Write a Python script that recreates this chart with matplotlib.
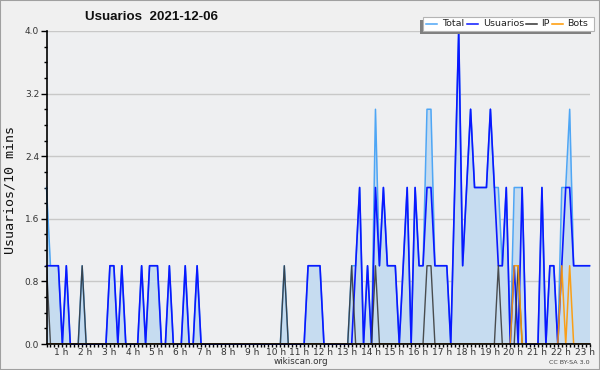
import numpy as np
import matplotlib
matplotlib.use("Agg")
import matplotlib.pyplot as plt
from matplotlib.patches import Rectangle
from matplotlib.lines import Line2D
from matplotlib.ticker import MultipleLocator, FixedLocator

# ---- data: 10-minute bins, one row per hour (00:00 .. 22:50) ----
usuarios = [
    1, 1, 1, 1, 0, 1,
    0, 0, 0, 0, 0, 0,
    0, 0, 0, 0, 1, 1,
    0, 1, 0, 0, 0, 0,
    1, 0, 1, 1, 1, 0,
    0, 1, 0, 0, 0, 1,
    0, 0, 1, 0, 0, 0,
    0, 0, 0, 0, 0, 0,
    0, 0, 0, 0, 0, 0,
    0, 0, 0, 0, 0, 0,
    0, 0, 0, 0, 0, 0,
    1, 1, 1, 1, 0, 0,
    0, 0, 0, 0, 0, 0,
    1, 2, 0, 1, 0, 2,
    1, 2, 1, 1, 1, 0,
    1, 2, 0, 2, 1, 1,
    2, 2, 1, 1, 1, 1,
    0, 2, 4, 1, 2, 3,
    2, 2, 2, 2, 3, 2,
    1, 1, 2, 0, 1, 0,
    2, 0, 0, 0, 0, 2,
    0, 1, 1, 0, 1, 2,
    2, 1, 1, 1, 1, 1,
]
ip = [
    1, 0, 0, 0, 0, 0,
    0, 0, 0, 1, 0, 0,
    0, 0, 0, 0, 0, 0,
    0, 0, 0, 0, 0, 0,
    0, 0, 0, 0, 0, 0,
    0, 0, 0, 0, 0, 0,
    0, 0, 0, 0, 0, 0,
    0, 0, 0, 0, 0, 0,
    0, 0, 0, 0, 0, 0,
    0, 0, 0, 0, 0, 0,
    1, 0, 0, 0, 0, 0,
    0, 0, 0, 0, 0, 0,
    0, 0, 0, 0, 0, 1,
    0, 0, 0, 0, 0, 1,
    0, 0, 0, 0, 0, 0,
    0, 0, 0, 0, 0, 0,
    1, 1, 0, 0, 0, 0,
    0, 0, 0, 0, 0, 0,
    0, 0, 0, 0, 0, 0,
    1, 0, 0, 0, 0, 1,
    0, 0, 0, 0, 0, 0,
    0, 0, 0, 0, 0, 0,
    0, 0, 0, 0, 0, 0,
]
bots = [
    0, 0, 0, 0, 0, 0,
    0, 0, 0, 0, 0, 0,
    0, 0, 0, 0, 0, 0,
    0, 0, 0, 0, 0, 0,
    0, 0, 0, 0, 0, 0,
    0, 0, 0, 0, 0, 0,
    0, 0, 0, 0, 0, 0,
    0, 0, 0, 0, 0, 0,
    0, 0, 0, 0, 0, 0,
    0, 0, 0, 0, 0, 0,
    0, 0, 0, 0, 0, 0,
    0, 0, 0, 0, 0, 0,
    0, 0, 0, 0, 0, 0,
    0, 0, 0, 0, 0, 0,
    0, 0, 0, 0, 0, 0,
    0, 0, 0, 0, 0, 0,
    0, 0, 0, 0, 0, 0,
    0, 0, 0, 0, 0, 0,
    0, 0, 0, 0, 0, 0,
    0, 0, 0, 0, 1, 1,
    0, 0, 0, 0, 0, 0,
    0, 0, 0, 0, 1, 0,
    1, 0, 0, 0, 0, 0,
]
total = [
    2, 1, 1, 1, 0, 1,
    0, 0, 0, 1, 0, 0,
    0, 0, 0, 0, 1, 1,
    0, 1, 0, 0, 0, 0,
    1, 0, 1, 1, 1, 0,
    0, 1, 0, 0, 0, 1,
    0, 0, 1, 0, 0, 0,
    0, 0, 0, 0, 0, 0,
    0, 0, 0, 0, 0, 0,
    0, 0, 0, 0, 0, 0,
    1, 0, 0, 0, 0, 0,
    1, 1, 1, 1, 0, 0,
    0, 0, 0, 0, 0, 1,
    1, 2, 0, 1, 0, 3,
    1, 2, 1, 1, 1, 0,
    1, 2, 0, 2, 1, 1,
    3, 3, 1, 1, 1, 1,
    0, 2, 4, 1, 2, 3,
    2, 2, 2, 2, 3, 2,
    2, 1, 2, 0, 2, 2,
    2, 0, 0, 0, 0, 2,
    0, 1, 1, 0, 2, 2,
    3, 1, 1, 1, 1, 1,
]
hours = list(range(1, 24))
hour_labels = [f"{h} h" for h in hours]
y_major = [0.0, 0.8, 1.6, 2.4, 3.2, 4.0]
series_names = ["Total", "Usuarios", "IP", "Bots"]
series_colors = ["#4ea6f5", "#0a18ff", "#333333", "#ff9900"]

W, H = 600, 370
def fx(px):
    return px / W
def fy(py):
    return 1 - py / H

fig = plt.figure(figsize=(6.0, 3.7), dpi=100)
fig.patch.set_facecolor("#f0f0f0")
fig.add_artist(Rectangle((0, 0), 1, 1, transform=fig.transFigure,
                         fill=False, edgecolor="#a0a0a0", lw=1.5))

ax = fig.add_axes([fx(46.5), fy(344), fx(589.5) - fx(46.5), fy(31) - fy(344)])
ax.set_facecolor("#eeeff1")

x = np.arange(len(total))
ax.fill_between(x, total, 0, color="#c6dcf0", lw=0, zorder=1)
ax.plot(x, total, color=series_colors[0], lw=1.1, zorder=3, clip_on=False)
ax.plot(x, usuarios, color=series_colors[1], lw=1.2, zorder=4, clip_on=False)
ax.plot(x, ip, color=series_colors[2], lw=1.0, alpha=0.85, zorder=5)
ax.plot(x, bots, color=series_colors[3], lw=1.1, alpha=0.9, zorder=5)

ax.set_xlim(0, len(total) - 1)
ax.set_ylim(0, 4.0)

for s in ("top", "right"):
    ax.spines[s].set_visible(False)
for s in ("left", "bottom"):
    ax.spines[s].set_color("black")
    ax.spines[s].set_linewidth(1.2)
    ax.spines[s].set_zorder(6)

# y axis
ax.set_yticks(y_major)
ax.set_yticklabels([f"{v:.1f}" for v in y_major])
ax.yaxis.set_minor_locator(MultipleLocator(0.2))
ax.tick_params(axis="y", which="major", length=4.3, width=1, pad=1,
               labelsize=6.5, colors="black", labelcolor="#333333")
ax.tick_params(axis="y", which="minor", length=2.2, width=1, colors="black")
ax.yaxis.grid(True, which="major", color="#c8c8c8", lw=1)
ax.set_axisbelow(True)

# x axis: ticks every 10 min, hour labels
ax.xaxis.remove_overlapping_locs = False
ax.xaxis.set_major_locator(FixedLocator([6 * h - 2.2 for h in hours]))
ax.set_xticklabels(hour_labels)
ax.xaxis.set_minor_locator(MultipleLocator(1))
ax.tick_params(axis="x", which="major", length=0, pad=3.2,
               labelsize=6.5, labelcolor="#333333")
ax.tick_params(axis="x", which="minor", length=2.4, width=1, colors="black")

# texts
fig.text(fx(85), fy(17), "Usuarios  2021-12-06", fontsize=9.6, fontweight="bold",
         family="Liberation Sans", ha="left", va="center", color="#111111")
fig.text(fx(10), fy(190), "Usuarios/10 mins", rotation=90, fontsize=9.6,
         family="DejaVu Sans Mono", ha="center", va="center", color="#111111")
fig.text(fx(301), fy(361), "wikiscan.org", fontsize=6.3, ha="center",
         va="center", color="#333333")
fig.text(fx(569.5), fy(362), "CC BY-SA 3.0", fontsize=4.6, ha="center",
         va="center", color="#444444")

# legend (drawn manually to reproduce the shifted shadow)
fig.add_artist(Rectangle((fx(419.5), fy(33.5)), fx(590.5) - fx(419.5),
                         fy(20) - fy(33.5), transform=fig.transFigure,
                         facecolor="#808080", edgecolor="none", zorder=10))
fig.add_artist(Rectangle((fx(422.5), fy(30.5)), fx(593.5) - fx(422.5),
                         fy(17) - fy(30.5), transform=fig.transFigure,
                         facecolor="white", edgecolor="#b4b4b4", lw=0.8, zorder=11))
handle_x = [425.7, 467.0, 526.0, 551.7]
text_x = [442.0, 483.5, 541.5, 567.0]
for name, col, hx, tx in zip(series_names, series_colors, handle_x, text_x):
    fig.add_artist(Line2D([fx(hx), fx(hx + 11)], [fy(24.2), fy(24.2)],
                          transform=fig.transFigure, color=col, lw=1.1, zorder=12))
    fig.text(fx(tx), fy(24.0), name, fontsize=6.8, ha="left", va="center",
             color="#222222", zorder=12)

fig.savefig("out.png", dpi=100, facecolor=fig.get_facecolor())
